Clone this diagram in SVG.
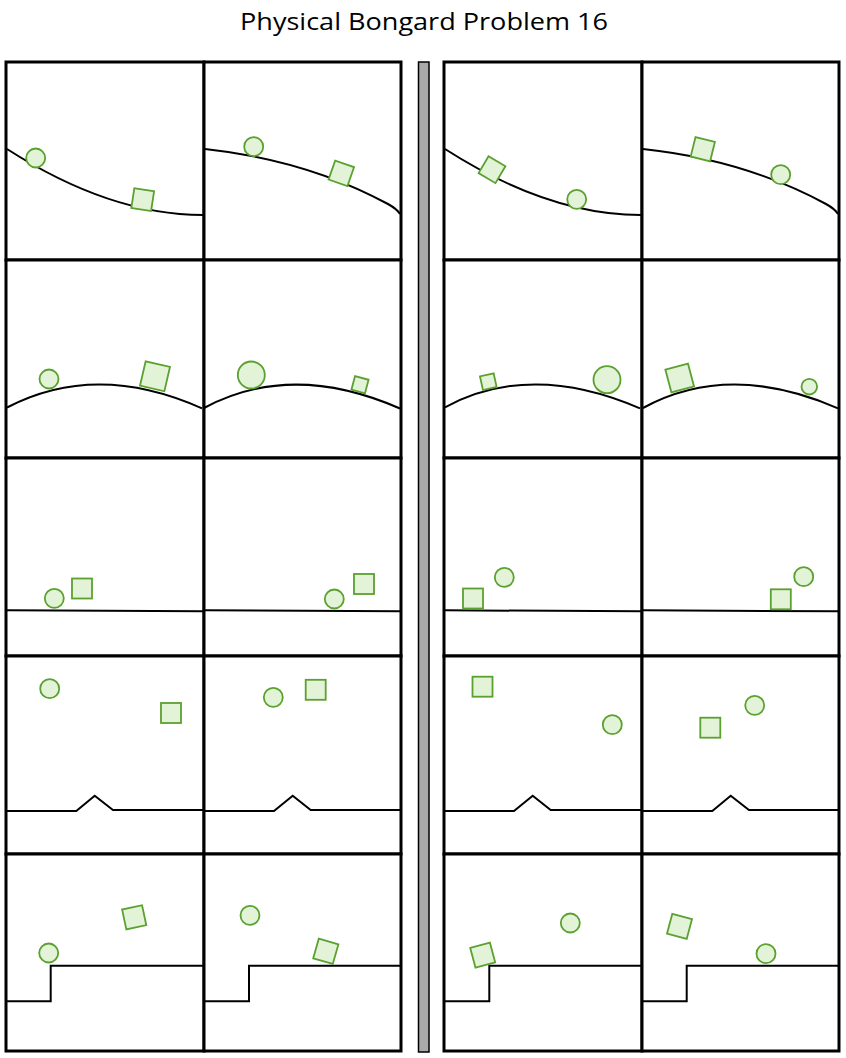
<svg xmlns="http://www.w3.org/2000/svg" width="846" height="1058" viewBox="0 0 846 1058">
<style>
.cell{fill:#fff;stroke:#000;stroke-width:3}
.g{fill:none;stroke:#000;stroke-width:2}
.o{fill:#e3f3d8;stroke:#5ba12f;stroke-width:1.8}
.t{font-family:"Open Sans","DejaVu Sans",sans-serif;font-size:23px;fill:#000}
</style>
<rect width="846" height="1058" fill="#fff"/>
<text class="t" x="424" y="30" text-anchor="middle" textLength="368" lengthAdjust="spacingAndGlyphs">Physical Bongard Problem 16</text>
<rect x="418.5" y="62" width="10.5" height="990" fill="#aaa" stroke="#000" stroke-width="1.5"/>

<g id="frames">
<rect class="cell" x="6" y="62" width="198" height="198"/>
<rect class="cell" x="204" y="62" width="197" height="198"/>
<rect class="cell" x="444" y="62" width="198" height="198"/>
<rect class="cell" x="642" y="62" width="197" height="198"/>
<rect class="cell" x="6" y="260" width="198" height="198"/>
<rect class="cell" x="204" y="260" width="197" height="198"/>
<rect class="cell" x="444" y="260" width="198" height="198"/>
<rect class="cell" x="642" y="260" width="197" height="198"/>
<rect class="cell" x="6" y="458" width="198" height="198"/>
<rect class="cell" x="204" y="458" width="197" height="198"/>
<rect class="cell" x="444" y="458" width="198" height="198"/>
<rect class="cell" x="642" y="458" width="197" height="198"/>
<rect class="cell" x="6" y="656" width="198" height="198"/>
<rect class="cell" x="204" y="656" width="197" height="198"/>
<rect class="cell" x="444" y="656" width="198" height="198"/>
<rect class="cell" x="642" y="656" width="197" height="198"/>
<rect class="cell" x="6" y="854" width="198" height="197"/>
<rect class="cell" x="204" y="854" width="197" height="197"/>
<rect class="cell" x="444" y="854" width="198" height="197"/>
<rect class="cell" x="642" y="854" width="197" height="197"/>
</g>

<!-- Row 1 -->
<g id="L1a">
<path class="g" d="M7,149 Q110,215 203,215"/>
<circle class="o" cx="35.7" cy="158" r="9.5"/>
<rect class="o" x="-10" y="-10" width="20" height="20" transform="translate(142.7,199.7) rotate(8.7)"/>
</g>
<g id="L1b">
<path class="g" d="M205,149 C280,157 340,178 388,204 Q397,209 400,214"/>
<circle class="o" cx="253.7" cy="146.7" r="9.5"/>
<rect class="o" x="-10" y="-10" width="20" height="20" transform="translate(341.3,173.3) rotate(19.3)"/>
</g>
<g id="R1a">
<path class="g" d="M445,149 Q548,215 641,215"/>
<rect class="o" x="-9.8" y="-9.8" width="19.6" height="19.6" transform="translate(492,169.7) rotate(30.5)"/>
<circle class="o" cx="576.7" cy="199.3" r="9.5"/>
</g>
<g id="R1b">
<path class="g" d="M643,149 C718,157 778,178 826,204 Q835,209 838,214"/>
<rect class="o" x="-10" y="-10" width="20" height="20" transform="translate(702.8,149.2) rotate(14)"/>
<circle class="o" cx="780.7" cy="174.7" r="9.5"/>
</g>

<!-- Row 2 -->
<g id="L2a">
<path class="g" d="M7,407.5 Q96,361 202,408.3"/>
<circle class="o" cx="49" cy="379" r="9.5"/>
<rect class="o" x="-12.5" y="-12.5" width="25" height="25" transform="translate(155,376.3) rotate(13)"/>
</g>
<g id="L2b">
<path class="g" d="M204,408 Q291.4,361 400,408.5"/>
<circle class="o" cx="251.3" cy="375" r="13.5"/>
<rect class="o" x="-7" y="-7" width="14" height="14" transform="translate(360,384.7) rotate(15)"/>
</g>
<g id="R2a">
<path class="g" d="M445,407.3 Q530.9,361 640,408.3"/>
<rect class="o" x="-7" y="-7" width="14" height="14" transform="translate(488.3,381.7) rotate(-12.4)"/>
<circle class="o" cx="607" cy="379.7" r="13.5"/>
</g>
<g id="R2b">
<path class="g" d="M643,408 Q729.5,361 838,408.3"/>
<rect class="o" x="-11.7" y="-11.7" width="23.4" height="23.4" transform="translate(679.7,378) rotate(-15)"/>
<circle class="o" cx="809.3" cy="386.7" r="7.8"/>
</g>

<!-- Row 3 -->
<g id="L3a">
<path class="g" d="M7,610.3 L203,611.3"/>
<circle class="o" cx="54.3" cy="598.3" r="9.5"/>
<rect class="o" x="72" y="578.5" width="20" height="20"/>
</g>
<g id="L3b">
<path class="g" d="M205,610.3 L400,611.3"/>
<circle class="o" cx="334.3" cy="599" r="9.5"/>
<rect class="o" x="354" y="574" width="20" height="20"/>
</g>
<g id="R3a">
<path class="g" d="M445,610.3 L641,611.3"/>
<rect class="o" x="463" y="588.5" width="20" height="20"/>
<circle class="o" cx="504.3" cy="577.3" r="9.5"/>
</g>
<g id="R3b">
<path class="g" d="M643,610.3 L838,611.3"/>
<rect class="o" x="770.8" y="589.3" width="20" height="20"/>
<circle class="o" cx="803.7" cy="576.7" r="9.5"/>
</g>

<!-- Row 4 -->
<g id="L4a">
<path class="g" d="M7,811 L76.3,811 L94.7,795.7 L113,810 L203,810"/>
<circle class="o" cx="49.7" cy="688.7" r="9.5"/>
<rect class="o" x="161" y="703" width="20" height="20"/>
</g>
<g id="L4b">
<path class="g" d="M205,811 L274,811 L292.7,795.7 L310.7,810 L400,810"/>
<circle class="o" cx="273.3" cy="697.3" r="9.5"/>
<rect class="o" x="305.7" y="679.8" width="20" height="20"/>
</g>
<g id="R4a">
<path class="g" d="M445,811 L514,811 L532.7,795.7 L550.7,810 L641,810"/>
<rect class="o" x="472.5" y="676.7" width="20" height="20"/>
<circle class="o" cx="612.3" cy="724.7" r="9.5"/>
</g>
<g id="R4b">
<path class="g" d="M643,811 L712.3,811 L730.7,795.7 L749,810 L838,810"/>
<rect class="o" x="700.3" y="717.7" width="20" height="20"/>
<circle class="o" cx="754.7" cy="705.3" r="9.5"/>
</g>

<!-- Row 5 -->
<g id="L5a">
<path class="g" d="M7,1001.3 L50.7,1001.3 L50.7,965.7 L203,965.7"/>
<circle class="o" cx="48.7" cy="953" r="9.5"/>
<rect class="o" x="-10.2" y="-10.2" width="20.4" height="20.4" transform="translate(134.2,917.3) rotate(-12)"/>
</g>
<g id="L5b">
<path class="g" d="M205,1001.3 L249,1001.3 L249,965.7 L400,965.7"/>
<circle class="o" cx="250" cy="915.3" r="9.5"/>
<rect class="o" x="-10.2" y="-10.2" width="20.4" height="20.4" transform="translate(325.8,951.3) rotate(16)"/>
</g>
<g id="R5a">
<path class="g" d="M445,1001.3 L489.3,1001.3 L489.3,965.7 L641,965.7"/>
<rect class="o" x="-10.2" y="-10.2" width="20.4" height="20.4" transform="translate(482.7,955.2) rotate(-15)"/>
<circle class="o" cx="570.3" cy="923" r="9.5"/>
</g>
<g id="R5b">
<path class="g" d="M643,1001.3 L686.7,1001.3 L686.7,965.7 L838,965.7"/>
<rect class="o" x="-10.2" y="-10.2" width="20.4" height="20.4" transform="translate(679.5,926.3) rotate(15)"/>
<circle class="o" cx="766" cy="953.7" r="9.5"/>
</g>
</svg>
